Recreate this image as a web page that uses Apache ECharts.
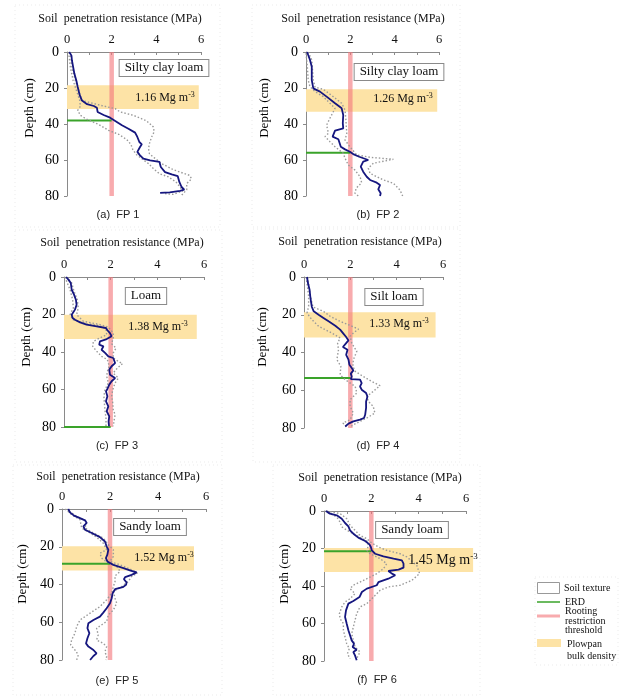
<!DOCTYPE html>
<html>
<head>
<meta charset="utf-8">
<script src="https://cdn.jsdelivr.net/npm/echarts/dist/echarts.min.js"></script>
<style>
  html, body { margin: 0; padding: 0; background: #fff; }
  #chart { width: 643px; height: 700px; }
</style>
</head>
<body>
<div id="chart"></div>
<script>
// soil penetration resistance profiles, six farm plots
const captions = ['(a)  FP 1', '(b)  FP 2', '(c)  FP 3', '(d)  FP 4', '(e)  FP 5', '(f)  FP 6'];
const textures = ['Silty clay loam', 'Silty clay loam', 'Loam', 'Silt loam', 'Sandy loam', 'Sandy loam'];
const bulkDensity = ['1.16', '1.26', '1.38', '1.33', '1.52', '1.45'];
const erdDepth = [38, 56, 80, 53.5, 29, 21.5];
const threshold = 2;
const plowpanTop = [18.5, 20.7, 20.1, 18.7, 19.8, 19.7];
const plowpanBottom = [31.7, 33.2, 33.1, 32, 32.6, 32.5];
const plowpanRight = [5.9, 5.92, 5.69, 5.68, 5.5, 6.3];
const xTicks = [0, 2, 4, 6];
const depthTicks = [0, 20, 40, 60, 80];

// [MPa, depth cm]
const meanFP1 = [[0.1,0],[0.2,2],[0.22,4.6],[0.27,8],[0.33,12],[0.42,16],[0.48,19.4],[0.57,24],[0.67,27],[0.9,29],[1.2,30],[1.34,31],[1.37,33.3],[1.64,35],[1.93,36.5],[2.16,38.3],[2.46,40.7],[2.75,42.6],[3.05,44.8],[3.15,47.2],[3.24,50],[3.35,51.3],[3.27,52.8],[3.15,55.5],[3.27,57.4],[3.42,59.3],[3.72,60.2],[4.14,61.1],[4.2,63.9],[4.39,66.7],[4.69,68],[4.96,69],[5.03,72.2],[5.13,75],[5.25,76.5],[5.06,77.2],[4.6,78],[4.17,78.3]];
const upperFP1 = [[0.15,0],[0.22,8.3],[0.37,15.7],[0.52,21.3],[0.67,26.9],[1.49,29.6],[2.16,31.5],[2.38,33.3],[2.98,35.2],[3.57,38.3],[3.87,41.7],[3.9,44.4],[3.79,47.2],[3.69,50.9],[3.65,53.7],[3.69,56.5],[3.9,58.7],[4.24,62],[4.76,65.4],[5.48,68.5],[5.58,70.4],[5.36,73.1],[5.36,76.5],[5.13,79.6]];
const lowerFP1 = [[0.07,0],[0.15,8.3],[0.27,15.7],[0.42,21.3],[0.57,26.9],[0.6,30.2],[0.48,32.4],[0.6,35.2],[0.92,37.6],[1.41,40.2],[1.86,43.5],[2.31,45.7],[2.68,48.7],[2.86,51.3],[2.95,54.3],[3.1,56.9],[3.35,59.3],[3.65,62],[3.87,64.8],[4.14,67.6],[4.54,69.4],[4.88,72.2],[5.06,75],[5.18,77.2],[4.76,79.1],[4.39,78.7]];

const meanFP2 = [[0.05,0],[0.1,1.7],[0.18,4.4],[0.26,8.2],[0.26,15.6],[0.33,20.2],[0.63,22],[0.93,24.8],[1.31,28.5],[1.61,31.3],[1.68,35],[1.66,39.6],[1.68,42.4],[1.31,43.7],[1.2,47],[1.46,48.5],[1.57,52.6],[1.76,54.1],[1.98,55.4],[2.13,56.7],[2.4,58.2],[2.81,60],[2.58,60.9],[2.47,63.7],[2.58,66.5],[2.74,69.3],[2.89,71.1],[3.19,72.6],[3.34,73.9],[3.26,76.3],[3.37,78.5],[3.34,80]];
const upperFP2 = [[0.1,0],[0.26,4.4],[0.33,15.6],[0.41,19.6],[0.78,20.7],[1.23,24.8],[1.61,28.5],[1.76,32.2],[1.8,37.8],[1.84,45.2],[1.76,48.9],[1.98,52.6],[2.29,57.2],[2.89,58.5],[3.94,59.6],[3.04,61.8],[2.81,64.6],[2.89,67.4],[3.49,71.1],[3.94,72.9],[4.24,76.7],[4.36,80]];
const lowerFP2 = [[0,0.7],[0.06,8.2],[0.1,15.6],[0.18,19.3],[0.41,22],[0.78,24.8],[1.08,28.5],[1.31,31.3],[1.08,36.8],[0.93,40.6],[1.01,45.2],[0.86,47],[1.08,49.8],[1.31,52.6],[1.68,56.3],[1.76,59],[1.91,62.8],[2.21,65.6],[2.44,69.3],[2.51,72.6],[2.26,75.7],[2.21,78.5],[2.36,80]];

const meanFP3 = [[0.09,0],[0.19,1.4],[0.29,3.2],[0.33,6.8],[0.43,9.4],[0.51,12.1],[0.54,14.8],[0.47,17.4],[0.33,20.1],[0.37,21.9],[0.47,22.8],[0.69,24.2],[0.97,25.4],[1.4,26.3],[1.8,27.2],[1.86,28.4],[1.97,29.9],[2.04,31.6],[1.83,33.1],[1.54,34.3],[1.51,36.1],[1.69,37],[1.61,38.8],[1.76,40.5],[1.9,42.3],[2.11,43.2],[2.19,45.9],[2.04,47.6],[1.94,49.4],[1.97,52.1],[2.19,53.9],[2.04,55.6],[1.94,57.4],[1.86,59.7],[1.8,61],[1.86,63.6],[1.8,66.3],[1.9,69],[1.83,71.6],[1.94,74.3],[1.91,77],[1.93,79.6]];
const upperFP3 = [[0.11,0],[0.33,3.2],[0.43,7.6],[0.57,12.1],[0.61,16.5],[0.54,20.1],[0.83,23.6],[1.54,25.4],[1.9,26.7],[2.11,29.9],[2.11,32.5],[2.04,35.6],[2.23,37.9],[2.11,40.5],[2.11,43.2],[2.33,45],[2.51,46.2],[2.29,48.5],[2.11,51.2],[2.33,53.9],[2.19,56.5],[2.09,60.1],[2.04,63.6],[2.09,67.2],[2.11,70.8],[2.19,73.4],[2.14,77],[2.11,79.6]];
const lowerFP3 = [[0.04,0],[0.26,6.8],[0.37,12.1],[0.4,16.5],[0.26,20.1],[0.4,22.8],[0.97,24.9],[1.54,26],[1.8,27.7],[1.83,30.8],[1.54,32.5],[1.26,34.3],[1.23,37],[1.4,39.6],[1.61,42.3],[1.86,44.1],[1.94,47.6],[1.86,50.3],[1.83,53],[1.9,56.5],[1.76,60.1],[1.71,63.6],[1.73,67.2],[1.76,71.6],[1.8,75.2],[1.8,79.6]];

const meanFP4 = [[0.13,0],[0.17,3.2],[0.24,6.7],[0.27,10.2],[0.3,12.9],[0.34,15.9],[0.42,18.2],[0.63,20],[0.84,21.7],[1.06,23.5],[1.35,25.8],[1.56,27.9],[1.7,30],[1.82,31.8],[1.92,33.6],[1.82,35],[1.68,37.1],[1.88,38.5],[1.82,41.2],[1.92,43.8],[1.96,46.5],[2.06,48.2],[2.13,49.5],[2.02,51.2],[2.06,52.7],[2.02,54.1],[2.42,54.4],[2.49,56.2],[2.42,58],[2.49,59.7],[2.68,61.5],[2.74,63.3],[2.68,65.9],[2.68,69.4],[2.64,73],[2.59,74.7],[2.42,75.6],[2.13,76.5],[1.92,77.7],[1.78,79.2]];
const upperFP4 = [[0.16,0],[0.27,10.2],[0.39,15.9],[0.84,18.2],[1.13,20.8],[1.56,23.5],[1.92,25.3],[2.35,27.6],[2.13,29.7],[1.99,31.4],[2.06,35],[2.28,39.4],[2.13,43.8],[2.11,47.3],[2.21,50],[2.56,52.7],[2.92,55.3],[3.28,57.6],[2.99,60.6],[2.71,63.3],[2.78,65.9],[2.99,68.6],[3.06,72.1],[2.71,74.7],[2.42,76.5],[2.13,78.3],[1.99,79.5]];
const lowerFP4 = [[0.1,0],[0.2,10.2],[0.2,15.5],[0.13,19.1],[0.34,22.6],[0.63,26.1],[1.2,29.7],[1.56,32.3],[1.45,35],[1.49,38.5],[1.42,43.8],[1.59,47.3],[1.56,51.8],[1.78,54.4],[2.21,58],[2.28,61.5],[1.99,65],[1.99,68.6],[2.13,72.1],[1.99,75.6],[1.68,77.4],[1.82,79.2]];

const meanFP5 = [[0.26,0],[0.33,1.8],[0.5,3.5],[0.75,4.8],[0.96,6],[1.03,7.4],[0.89,9.2],[0.96,11],[1.24,12.7],[1.58,14.9],[1.79,17.2],[1.86,19.8],[1.93,21.6],[1.89,24.2],[1.83,26],[1.89,27.8],[2.14,29.6],[2.56,31.3],[2.86,32.6],[3.11,33.6],[2.9,34.9],[2.63,36.1],[2.58,37.2],[2.69,38.9],[2.67,40.2],[2.53,41.4],[2.21,42.5],[2.11,44.6],[2.07,47.3],[2,49.9],[1.86,52.6],[1.72,54.9],[1.58,57],[1.31,58.8],[1.1,60.5],[1.06,63.2],[1.14,65.8],[1.06,68.5],[1,71.2],[1.1,72.9],[1.31,74.7],[1.44,76.5],[1.31,77.9],[1.17,80]];
const upperFP5 = [[0.19,0],[0.61,3.9],[1.03,6.5],[0.96,10.1],[1.31,12.7],[1.72,15.4],[1.93,18.9],[2.14,21.6],[2.14,25.1],[2,27.8],[2.42,29.6],[2.9,32.2],[3.14,34],[2.9,35.8],[2.76,38.4],[2.49,41.1],[2.14,43.7],[2.21,47.3],[2.28,49.9],[2.14,53.5],[1.93,56.1],[1.86,59.6],[1.44,63.2],[1.51,66.7],[1.44,69.4],[1.72,71.2],[1.86,72.9],[1.79,75.6],[1.86,78.2],[1.83,80]];
const lowerFP5 = [[0.13,0],[0.4,3],[0.75,5.7],[0.82,10.1],[1.17,12.7],[1.44,14.9],[1.72,18.1],[1.86,21.6],[1.58,23.4],[1.65,26],[1.83,27.8],[2.28,30.4],[2.42,33.1],[2.21,35.4],[2.21,38.4],[2.14,41.1],[2.07,44.6],[1.86,48.1],[1.58,51.7],[1.17,55.2],[0.75,58.8],[0.61,62.3],[0.54,65.8],[0.4,69.4],[0.36,72],[0.54,74.7],[0.68,77.3],[0.61,80]];

const meanFP6 = [[0.08,0],[0.25,1.4],[0.54,2.3],[0.75,4.1],[0.89,6.4],[1.03,8.2],[1.1,10.3],[1.24,12.1],[1.45,14.2],[1.74,16],[1.92,17.8],[1.98,19.2],[2.02,21],[2.16,22.8],[2.51,24.2],[2.94,25.4],[3.29,26.3],[3.36,28.1],[3.36,30.2],[3.15,31.3],[2.72,32],[2.87,33.4],[3.01,34.3],[2.72,36.1],[2.3,37.9],[2.23,39.6],[2.16,40.5],[1.81,41.4],[1.6,43.2],[1.5,45.9],[1.24,48],[1.03,49.4],[0.93,53],[0.89,56.5],[0.96,60.1],[1.03,63.6],[1.1,66.3],[1.17,69],[1.27,70.8],[1.21,72.5],[1.38,74],[1.24,75.2],[1.31,77],[1.38,79.6]];
const upperFP6 = [[0.11,0],[0.68,1.4],[0.96,4.1],[1.1,7.6],[1.31,10.3],[1.52,13],[1.81,14.8],[2.02,17.1],[2.3,19.2],[2.65,21],[3.22,22.8],[3.5,24.5],[3.92,29],[4.04,33.4],[3.71,37],[3.22,39.6],[2.72,40.5],[2.37,42.3],[2.16,45],[2.02,46.8],[1.81,49.4],[1.52,51.2],[1.38,54.8],[1.31,58.3],[1.24,61.9],[1.17,65.4],[1.24,69],[1.31,72.5],[1.52,75.2],[1.45,77],[1.38,78.8]];
const lowerFP6 = [[0.04,0],[0.54,3.2],[0.68,5.9],[0.75,8.5],[1.1,11.2],[1.45,13.5],[1.81,16],[1.88,18.3],[1.81,21],[1.95,22.8],[2.37,25.4],[2.65,28.1],[2.51,30.8],[2.23,33.4],[1.81,36.1],[1.52,37.9],[1.24,39.6],[1.1,41.4],[1.31,44.1],[1.1,46.8],[0.89,48.5],[0.75,51.2],[0.65,54.8],[0.68,57.4],[0.82,60.1],[0.82,63.6],[0.89,67.2],[0.96,70.8],[1.07,73.4],[0.99,76.1],[1.1,78.8]];

const means = [meanFP1, meanFP2, meanFP3, meanFP4, meanFP5, meanFP6];
const uppers = [upperFP1, upperFP2, upperFP3, upperFP4, upperFP5, upperFP6];
const lowers = [lowerFP1, lowerFP2, lowerFP3, lowerFP4, lowerFP5, lowerFP6];

// layout (pixels)
const grids = [
  {left: 67, top: 52, width: 134, height: 144},
  {left: 306, top: 52, width: 133, height: 144},
  {left: 64, top: 277, width: 140, height: 150},
  {left: 304, top: 277, width: 139, height: 151},
  {left: 62, top: 509, width: 144, height: 151},
  {left: 324, top: 511, width: 142, height: 150}
];
const titlePos = [[120, 19], [363, 19], [122, 243], [360, 242], [118, 477], [380, 478]];
const depthNamePos = [[30, 108], [265, 108], [27, 337], [263, 337], [23, 574], [285, 574]];
const texturePos = [[164, 68], [399, 72], [146, 296], [394, 297], [150, 527], [412, 530]];
const densityPos = [[165, 98], [403, 99], [158, 327], [399, 324], [164, 558], [443, 560]];
const captionPos = [[118, 215], [378, 215], [117, 446], [378, 446], [117, 681], [377, 680]];
const panelBoxes = [[15,5,205,222],[252,5,208,222],[15,230,207,232],[253,229,207,233],[13,465,209,230],[273,465,207,230]];

const serif = '"Liberation Serif", "DejaVu Serif", serif';
const axisGrey = '#8a8a8a';

const chart = echarts.init(document.getElementById('chart'));

const grid = [], xAxis = [], yAxis = [], series = [], graphic = [];

grids.forEach((g, i) => {
  grid.push(Object.assign({containLabel: false}, g));
  xAxis.push({
    type: 'value', gridIndex: i, position: 'top', min: xTicks[0], max: xTicks[xTicks.length - 1], interval: 1,
    axisLine: {lineStyle: {color: axisGrey, width: 1}},
    axisTick: {inside: true, length: 3, lineStyle: {color: axisGrey}},
    axisLabel: {margin: 6, color: '#111', fontFamily: serif, fontSize: 12.5,
      formatter: v => (xTicks.indexOf(v) >= 0 ? String(v) : '')},
    splitLine: {show: false}
  });
  yAxis.push({
    type: 'value', gridIndex: i, inverse: true, min: depthTicks[0], max: depthTicks[depthTicks.length - 1], interval: 20,
    axisLine: {lineStyle: {color: axisGrey, width: 1}},
    axisTick: {length: 3, lineStyle: {color: axisGrey}},
    axisLabel: {margin: 8, color: '#000', fontFamily: serif, fontSize: 14},
    splitLine: {show: false}
  });

  // plowpan band
  series.push({
    type: 'custom', xAxisIndex: i, yAxisIndex: i, z: 1, clip: false, silent: true,
    data: [[0, plowpanTop[i], plowpanRight[i], plowpanBottom[i]]],
    encode: {x: [0, 2], y: [1, 3]},
    renderItem: (params, api) => {
      const p0 = api.coord([api.value(0), api.value(1)]);
      const p1 = api.coord([api.value(2), api.value(3)]);
      return {type: 'rect', shape: {x: p0[0], y: p0[1], width: p1[0] - p0[0], height: p1[1] - p0[1]},
        style: {fill: '#FDE3A6'}};
    }
  });
  // rooting restriction threshold
  series.push({
    type: 'line', xAxisIndex: i, yAxisIndex: i, z: 2, silent: true, showSymbol: false,
    data: [[threshold, depthTicks[0]], [threshold, depthTicks[depthTicks.length - 1]]],
    lineStyle: {color: 'rgba(244,120,125,0.62)', width: 4.5}
  });
  // ERD
  series.push({
    type: 'line', xAxisIndex: i, yAxisIndex: i, z: 3, silent: true, showSymbol: false,
    data: [[0, erdDepth[i]], [threshold, erdDepth[i]]],
    lineStyle: {color: '#3aa32a', width: 2}
  });
  [uppers[i], lowers[i]].forEach(d => {
    series.push({
      type: 'line', xAxisIndex: i, yAxisIndex: i, z: 4, silent: true, showSymbol: false,
      data: d, lineStyle: {color: '#9a9a9a', width: 1.4, type: [1.5, 2]}
    });
  });
  series.push({
    type: 'line', xAxisIndex: i, yAxisIndex: i, z: 5, silent: true, showSymbol: false,
    data: means[i], lineStyle: {color: '#15167f', width: 1.8}
  });

  // texts
  const b = panelBoxes[i];
  graphic.push({type: 'rect', shape: {x: b[0], y: b[1], width: b[2], height: b[3]}, z: 0,
    style: {fill: 'none', stroke: '#ebebeb', lineWidth: 1, lineDash: [1, 3]}});
  graphic.push({type: 'text', x: titlePos[i][0], y: titlePos[i][1], z: 10,
    style: {text: 'Soil  penetration resistance (MPa)', font: '12px ' + serif, fill: '#111', align: 'center', verticalAlign: 'middle'}});
  graphic.push({type: 'text', x: depthNamePos[i][0], y: depthNamePos[i][1], rotation: Math.PI / 2, z: 10,
    style: {text: 'Depth (cm)', font: '13px ' + serif, fill: '#000', align: 'center', verticalAlign: 'middle'}});
  graphic.push({type: 'text', x: texturePos[i][0], y: texturePos[i][1], z: 10,
    style: {text: textures[i], font: '13px ' + serif, fill: '#111', align: 'center', verticalAlign: 'middle',
      backgroundColor: '#fff', borderColor: '#8a8a8a', borderWidth: 1, padding: [2, 5, 1, 5]}});
  graphic.push({type: 'text', x: densityPos[i][0], y: densityPos[i][1], z: 10,
    style: {text: bulkDensity[i] + ' Mg m{sup|-3}', font: (i === 5 ? '14px ' : '12px ') + serif, fill: '#111',
      align: 'center', verticalAlign: 'middle', lineHeight: 15,
      rich: {sup: {fontSize: i === 5 ? 9 : 8, fontFamily: serif, verticalAlign: 'top', lineHeight: 9, fill: '#111'}}}});
  graphic.push({type: 'text', x: captionPos[i][0], y: captionPos[i][1], z: 10,
    style: {text: captions[i], font: '11px "Liberation Sans", "DejaVu Sans", sans-serif', fill: '#222', align: 'center', verticalAlign: 'middle'}});
});

// legend
const lg = '10px ' + serif;
graphic.push(
  {type: 'rect', shape: {x: 535, y: 577, width: 83, height: 88}, style: {fill: 'none', stroke: '#ebebeb', lineDash: [1, 3]}},
  {type: 'rect', shape: {x: 537.5, y: 582.5, width: 22, height: 11}, style: {fill: '#fff', stroke: '#999', lineWidth: 1}},
  {type: 'text', x: 564, y: 588, style: {text: 'Soil texture', font: lg, fill: '#111', verticalAlign: 'middle'}},
  {type: 'line', shape: {x1: 537, y1: 602, x2: 560, y2: 602}, style: {stroke: '#3aa32a', lineWidth: 1.5}},
  {type: 'text', x: 565, y: 602, style: {text: 'ERD', font: lg, fill: '#111', verticalAlign: 'middle'}},
  {type: 'line', shape: {x1: 537, y1: 616, x2: 560, y2: 616}, style: {stroke: 'rgba(244,120,125,0.62)', lineWidth: 3}},
  {type: 'text', x: 565, y: 621, style: {text: 'Rooting\nrestriction\nthreshold', font: lg, fill: '#111', verticalAlign: 'middle', lineHeight: 9.7}},
  {type: 'rect', shape: {x: 537, y: 639, width: 24, height: 8}, style: {fill: '#FDE3A6'}},
  {type: 'text', x: 567, y: 650, style: {text: 'Plowpan\nbulk density', font: lg, fill: '#111', verticalAlign: 'middle', lineHeight: 12}}
);

chart.setOption({
  animation: false,
  backgroundColor: '#fff',
  grid: grid,
  xAxis: xAxis,
  yAxis: yAxis,
  series: series,
  graphic: graphic
});
</script>
</body>
</html>
